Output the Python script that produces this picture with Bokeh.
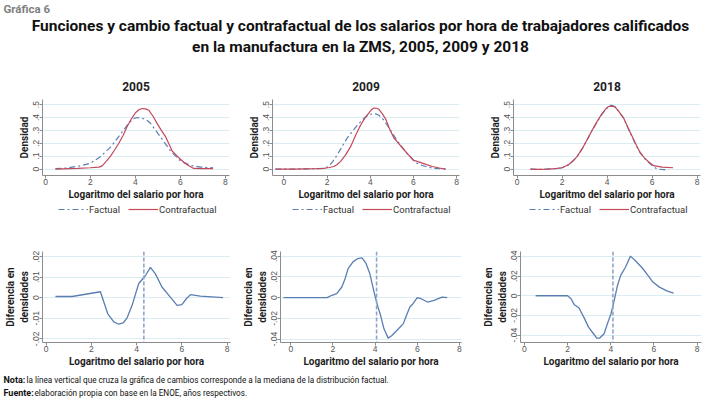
from bokeh.plotting import figure
from bokeh.layouts import column, row
from bokeh.models import Range1d, FixedTicker, Span, Legend, LegendItem
from bokeh.core.properties import value
from bokeh.embed import file_html
from bokeh.resources import INLINE

# ---------------- data ----------------
years = ["2005", "2009", "2018"]

# densities 2005
fac05_x = [0.44, 0.96, 1.56, 2.0, 2.44, 2.89, 3.33, 3.7, 3.9, 4.07, 4.3, 4.5, 4.67, 5.11, 5.56, 6.0, 6.44, 6.89, 7.45]
fac05_y = [0.003, 0.008, 0.025, 0.046, 0.096, 0.17, 0.27, 0.355, 0.39, 0.40, 0.395, 0.38, 0.355, 0.25, 0.14, 0.063, 0.028, 0.015, 0.01]
con05_x = [0.44, 1.41, 2.0, 2.37, 2.52, 2.7, 2.89, 3.08, 3.26, 3.45, 3.63, 3.82, 4.0, 4.15, 4.3, 4.45, 4.59, 4.78, 4.96, 5.15, 5.33, 5.5, 5.63, 5.8, 6.0, 6.2, 6.37, 6.59, 7.0, 7.45]
con05_y = [0.0, 0.005, 0.01, 0.015, 0.025, 0.06, 0.10, 0.15, 0.20, 0.26, 0.33, 0.39, 0.437, 0.46, 0.47, 0.467, 0.457, 0.41, 0.355, 0.30, 0.254, 0.19, 0.14, 0.11, 0.076, 0.045, 0.025, 0.005, 0.003, 0.003]

# densities 2009
fac09_x = [-0.39, 0.5, 1.0, 1.5, 1.85, 2.08, 2.27, 2.47, 2.7, 2.93, 3.16, 3.4, 3.6, 3.78, 3.95, 4.09, 4.25, 4.4, 4.6, 4.79, 4.98, 5.17, 5.4, 5.64, 5.87, 6.1, 6.33, 6.56, 6.95, 7.49]
fac09_y = [0.0, 0.0, 0.002, 0.003, 0.005, 0.02, 0.06, 0.11, 0.175, 0.24, 0.29, 0.34, 0.375, 0.405, 0.42, 0.43, 0.428, 0.418, 0.385, 0.34, 0.29, 0.24, 0.185, 0.136, 0.09, 0.05, 0.032, 0.02, 0.005, 0.0]
con09_x = [-0.39, 0.5, 1.0, 1.5, 1.85, 2.1, 2.32, 2.47, 2.63, 2.86, 3.09, 3.32, 3.55, 3.75, 3.94, 4.05, 4.17, 4.3, 4.4, 4.55, 4.71, 4.9, 5.1, 5.33, 5.56, 5.8, 6.02, 6.2, 6.41, 6.64, 6.87, 7.2, 7.49]
con09_y = [0.0, 0.0, 0.002, 0.004, 0.006, 0.012, 0.02, 0.035, 0.06, 0.11, 0.174, 0.26, 0.34, 0.395, 0.436, 0.46, 0.474, 0.472, 0.464, 0.43, 0.39, 0.31, 0.24, 0.195, 0.15, 0.105, 0.067, 0.058, 0.046, 0.032, 0.02, 0.008, 0.0]

# densities 2018
fac18_x = [0.59, 1.0, 1.33, 1.7, 2.0, 2.3, 2.5, 2.67, 2.9, 3.11, 3.33, 3.56, 3.75, 3.93, 4.05, 4.15, 4.26, 4.37, 4.55, 4.74, 4.92, 5.11, 5.3, 5.48, 5.67, 5.85, 6.05, 6.22, 6.5, 6.74]
fac18_y = [0.0, -0.002, 0.0, 0.003, 0.01, 0.033, 0.065, 0.097, 0.16, 0.226, 0.30, 0.367, 0.42, 0.46, 0.485, 0.495, 0.492, 0.482, 0.44, 0.392, 0.32, 0.251, 0.18, 0.123, 0.08, 0.05, 0.02, 0.0, -0.004, -0.004]
con18_x = [0.59, 1.0, 1.33, 1.7, 2.0, 2.3, 2.5, 2.67, 2.9, 3.11, 3.33, 3.56, 3.75, 3.93, 4.05, 4.15, 4.26, 4.37, 4.55, 4.74, 4.92, 5.11, 5.3, 5.48, 5.67, 5.85, 6.07, 6.44, 6.93]
con18_y = [0.0, -0.002, 0.0, 0.003, 0.01, 0.035, 0.066, 0.098, 0.16, 0.228, 0.30, 0.37, 0.425, 0.465, 0.484, 0.488, 0.487, 0.478, 0.44, 0.395, 0.325, 0.255, 0.185, 0.125, 0.085, 0.055, 0.026, 0.015, 0.01]

# density differences
dif05_x = [0.41, 1.15, 2.4, 2.72, 2.99, 3.21, 3.4, 3.58, 3.8, 4.09, 4.39, 4.61, 4.83, 5.12, 5.49, 5.79, 6.0, 6.2, 6.38, 6.82, 7.82]
dif05_y = [0.0006, 0.0006, 0.0029, -0.0077, -0.0118, -0.0129, -0.0123, -0.0098, -0.0037, 0.0068, 0.0108, 0.0148, 0.0116, 0.0052, 0.0003, -0.0037, -0.0034, -0.0005, 0.0015, 0.0008, 0.0]
dif09_x = [-0.35, 1.72, 1.95, 2.18, 2.42, 2.57, 2.72, 2.95, 3.18, 3.38, 3.57, 3.75, 3.95, 4.11, 4.26, 4.42, 4.62, 4.8, 5.03, 5.34, 5.49, 5.65, 5.8, 6.0, 6.18, 6.49, 6.8, 7.18, 7.42]
dif09_y = [0.0, 0.0, 0.0023, 0.0039, 0.0103, 0.018, 0.028, 0.0345, 0.0377, 0.0384, 0.033, 0.023, 0.0055, -0.0074, -0.017, -0.030, -0.039, -0.0365, -0.0316, -0.025, -0.017, -0.009, -0.0058, 0.0, -0.001, -0.0042, -0.0026, 0.0006, 0.0]
dif18_x = [0.52, 2.0, 2.16, 2.3, 2.53, 2.75, 2.97, 3.2, 3.35, 3.49, 3.69, 3.87, 4.01, 4.16, 4.31, 4.46, 4.68, 4.91, 5.13, 5.43, 5.72, 5.95, 6.25, 6.62, 6.91]
dif18_y = [0.0, 0.0, -0.003, -0.0088, -0.0125, -0.0217, -0.0319, -0.0386, -0.043, -0.043, -0.0386, -0.0268, -0.0183, -0.0047, 0.0105, 0.0207, 0.029, 0.0403, 0.0359, 0.029, 0.0207, 0.0139, 0.0088, 0.0047, 0.0027]

medians = [4.32, 4.07, 4.1]

x_ticks = [0, 2, 4, 6, 8]
dens_ticks = [0, 0.1, 0.2, 0.3, 0.4, 0.5]
dens_labels = ["0", ".1", ".2", ".3", ".4", ".5"]
dif_ticks = [[-0.02, -0.01, 0, 0.01, 0.02], [-0.04, -0.02, 0, 0.02, 0.04], [-0.04, -0.02, 0, 0.02, 0.04]]
dif_labels = [["-.02", "-.01", "0", ".01", ".02"], ["-.04", "-.02", "0", ".02", ".04"], ["-.04", "-.02", "0", ".02", ".04"]]

series_names = ["Factual", "Contrafactual"]
title_1 = "Funciones y cambio factual y contrafactual de los salarios por hora de trabajadores calificados"
title_2 = "en la manufactura en la ZMS, 2005, 2009 y 2018"
nota_b, nota_t = "Nota:", "la línea vertical que cruza la gráfica de cambios corresponde a la mediana de la distribución factual."
fuente_b, fuente_t = "Fuente:", "elaboración propia con base en la ENOE, años respectivos."

# ---------------- style ----------------
FONT = "Roboto"
BLUE = "#5a7eb2"
RED = "#c4475a"
GRID = "#d9edf2"
AXIS = "#8c8c8c"
TXT = "#1e1e1e"
FAC_DASH = "6 3 2 3"

def base_axes(p, yt, yl, ylabel):
    p.outline_line_color = None
    p.xgrid.visible = False
    p.ygrid.grid_line_color = GRID
    p.ygrid.grid_line_width = 1
    p.xaxis.ticker = FixedTicker(ticks=x_ticks)
    p.yaxis.ticker = FixedTicker(ticks=yt)
    p.yaxis.major_label_overrides = dict(zip(yt, yl))
    for ax in (p.xaxis[0], p.yaxis[0]):
        ax.axis_line_color = AXIS
        ax.major_tick_line_color = AXIS
        ax.minor_tick_line_color = None
        ax.major_tick_out = 3
        ax.major_tick_in = 0
        ax.major_label_text_color = "#555555"
        ax.major_label_text_font = "Liberation Sans"
        ax.major_label_text_font_size = "8.5px"
        ax.major_label_standoff = 0
        ax.axis_label_text_font = FONT
        ax.axis_label_text_font_style = "bold"
        ax.axis_label_text_font_size = "10px"
        ax.axis_label_text_color = TXT
        ax.axis_label_standoff = 1
    p.yaxis.major_label_orientation = "vertical"
    p.xaxis.axis_label = "Logaritmo del salario por hora"
    p.yaxis.axis_label = ylabel

widths = [240, 240, 240]
top_lr = [(42, 11), (32, 21), (33, 20)]
bot_lr = [(42, 10), (32, 19), (33, 19)]
top_xr = [(-0.133, 8.18), (-0.523, 8.13), (-0.16, 8.15)]
bot_xr = [(-0.16, 8.15), (-0.49, 8.1), (-0.18, 8.2)]
bot_yr = [(-0.0218, 0.0225), (-0.0432, 0.0445), (-0.0475, 0.045)]
legend_x = [58, 292, 529]

fac = [(fac05_x, fac05_y), (fac09_x, fac09_y), (fac18_x, fac18_y)]
con = [(con05_x, con05_y), (con09_x, con09_y), (con18_x, con18_y)]
dif = [(dif05_x, dif05_y), (dif09_x, dif09_y), (dif18_x, dif18_y)]

def canvas(h):
    c = figure(width=720, height=h, output_backend="svg", toolbar_location=None,
               x_range=Range1d(0, 720), y_range=Range1d(h, 0),
               min_border=0, x_axis_type=None, y_axis_type=None)
    c.grid.visible = False
    c.outline_line_color = None
    return c

top_figs, bot_figs = [], []
for i in range(3):
    p = figure(width=widths[i], height=134, output_backend="svg", toolbar_location=None,
               x_range=Range1d(*top_xr[i]), y_range=Range1d(-0.05, 0.54),
               min_border_left=top_lr[i][0], min_border_right=top_lr[i][1],
               min_border_top=31, min_border_bottom=26)
    p.title.text = years[i]
    p.title.align = "center"
    p.title.text_font = FONT
    p.title.text_font_style = "bold"
    p.title.text_font_size = "12px"
    p.title.text_color = TXT
    p.title.standoff = 18
    base_axes(p, dens_ticks, dens_labels, "Densidad")
    p.line(fac[i][0], fac[i][1], line_color=BLUE, line_width=1.2, line_dash=FAC_DASH)
    p.line(con[i][0], con[i][1], line_color=RED, line_width=1.2)
    top_figs.append(p)

    q = figure(width=widths[i], height=154, output_backend="svg", toolbar_location=None,
               x_range=Range1d(*bot_xr[i]), y_range=Range1d(*bot_yr[i]),
               min_border_left=bot_lr[i][0], min_border_right=bot_lr[i][1],
               min_border_top=35, min_border_bottom=28)
    base_axes(q, dif_ticks[i], dif_labels[i], "Diferencia en\ndensidades")
    q.line(dif[i][0], dif[i][1], line_color=BLUE, line_width=1.3)
    q.add_layout(Span(location=medians[i], dimension="height", line_color="#8fa5c8",
                      line_dash="4 2", line_width=1.6))
    bot_figs.append(q)

# legend strip under the density panels (one-point lines draw nothing; they only carry the style)
leg_fig = canvas(14)
lf = leg_fig.line([fac05_x[0]], [fac05_y[0]], line_color=BLUE, line_width=1.2, line_dash=FAC_DASH)
lc = leg_fig.line([con05_x[0]], [con05_y[0]], line_color=RED, line_width=1.2)
for i in range(3):
    leg = Legend(items=[LegendItem(label=series_names[0], renderers=[lf]),
                        LegendItem(label=series_names[1], renderers=[lc])],
                 orientation="horizontal", location=(legend_x[i], 1),
                 border_line_color=None, background_fill_alpha=0,
                 label_text_font=FONT, label_text_font_size="9.5px", label_text_color="#333333",
                 glyph_width=30, glyph_height=10, padding=0, margin=0, spacing=8,
                 label_standoff=1, label_height=12)
    leg_fig.add_layout(leg)

head = canvas(68)
head.text(x=[3], y=[8], text=["Gráfica 6"], text_font=value(FONT), text_font_style="bold",
          text_font_size="11.5px", text_color="#7f7f7f", text_baseline="middle")
head.text(x=[360, 360], y=[25, 46], text=[title_1, title_2], text_font=value(FONT),
          text_font_style="bold", text_font_size="15.5px", text_color="#111111",
          text_align="center", text_baseline="middle")

foot = canvas(31)
foot.text(x=[3, 3], y=[9, 22], text=[nota_b, fuente_b], text_font=value(FONT),
          text_font_style="bold", text_font_size="9px", text_color="#111111", text_baseline="middle")
foot.text(x=[26, 34], y=[9, 22], text=[nota_t, fuente_t], text_font=value(FONT),
          text_font_size="8.2px", text_color="#111111", text_baseline="middle")

layout = column(head, row(*top_figs), leg_fig, row(*bot_figs), foot)
open("out.html", "w").write(file_html(layout, INLINE))
